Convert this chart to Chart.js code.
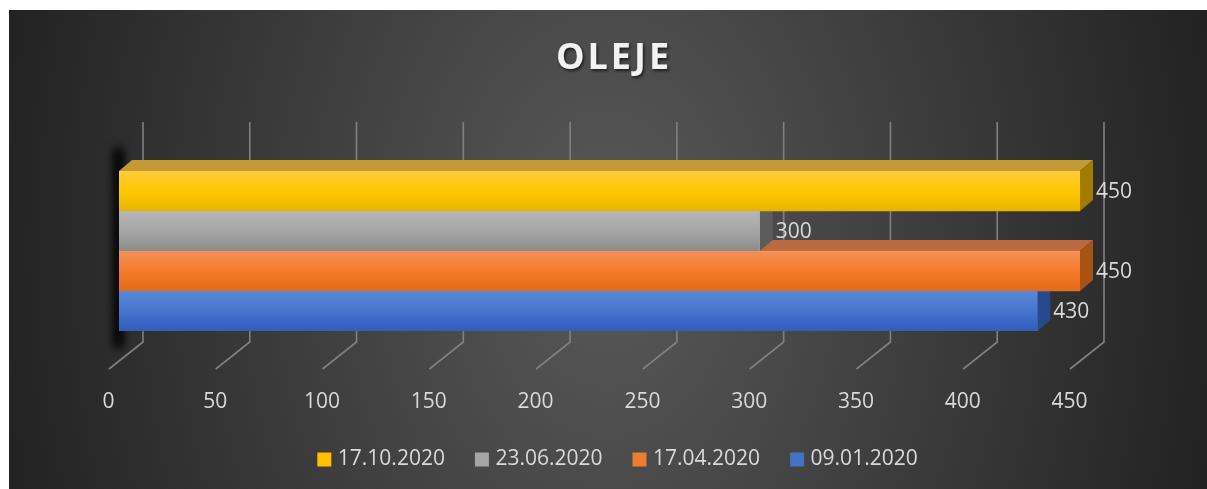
<!DOCTYPE html>
<html><head><meta charset="utf-8">
<script src="https://cdn.jsdelivr.net/npm/chart.js@4.4.1/dist/chart.umd.min.js"></script>
<style>
html,body{margin:0;padding:0;background:#fff;width:1207px;height:489px;overflow:hidden}
#bg{position:absolute;left:9px;top:10px;width:1198px;height:479px;background:radial-gradient(ellipse 620px 900px at 50% 50%, #595959 0%, #222222 100%)}
#wrap{position:absolute;left:0;top:0;width:1207px;height:489px}
canvas{display:block}
</style></head><body>
<div id="bg"></div>
<div id="wrap"><canvas id="c" width="1207" height="489"></canvas></div>
<script>
const chartTitle = 'OLEJE';
const categories = [''];
const seriesNames = ['17.10.2020', '23.06.2020', '17.04.2020', '09.01.2020'];
const values_17_10_2020 = [450];
const values_23_06_2020 = [300];
const values_17_04_2020 = [450];
const values_09_01_2020 = [430];
const axisMin = 0, axisMax = 450, axisStep = 50;

const seriesColors = ['#ffc000', '#a5a5a5', '#ed7d31', '#4472c4'];
const frontStops = [
  ['#ffcb3c', '#ffc800', '#e8b400'],
  ['#b6b6b6', '#a5a5a5', '#8c8c8c'],
  ['#f5915a', '#f47b2a', '#e26c1a'],
  ['#5b88d8', '#4575cc', '#2f5ebd']
];
const topFace = ['#c29a36', '#8a8a8a', '#bb6a40', '#3d63a8'];
const sideFace = ['#a47b00', '#5c5c5c', '#a85216', '#274a8f'];
const TXT = '#d9d9d9';
const FONT = '"Open Sans", "DejaVu Sans", sans-serif';
const DX = 13, DY = 11;

const depthPlugin = {
  id: 'depth',
  afterLayout(chart) {
    if (chart.legend) { chart.legend.left += 20; chart.legend.right += 20; }
  },
  beforeDatasetsDraw(chart) {
    const ctx = chart.ctx, xs = chart.scales.x, ca = chart.chartArea;
    const x0 = xs.getPixelForValue(0);
    // left shadow
    ctx.save();
    ctx.shadowColor = 'rgba(0,0,0,0.9)';
    ctx.shadowBlur = 10;
    ctx.shadowOffsetX = 10000;
    ctx.fillStyle = '#000';
    for (let k = 0; k < 2; k++) {
      ctx.fillRect(x0 - 10000 - 4, ca.top - 22, 7, ca.bottom - ca.top + 38);
    }
    ctx.restore();
    // gridlines
    ctx.save();
    ctx.strokeStyle = '#808080';
    ctx.lineWidth = 1.6;
    xs.ticks.forEach(t => {
      const px = xs.getPixelForValue(t.value) + 24;
      ctx.beginPath();
      ctx.moveTo(px, ca.top - 49);
      ctx.lineTo(px, ca.bottom + 11);
      ctx.lineTo(px - 34, ca.bottom + 38);
      ctx.stroke();
    });
    ctx.restore();
    // top + side faces, bottom bar first
    ctx.save();
    for (let d = chart.data.datasets.length - 1; d >= 0; d--) {
      const meta = chart.getDatasetMeta(d);
      meta.data.forEach(el => {
        const top = el.y - el.height / 2, bot = el.y + el.height / 2;
        const xb = el.base, xe = el.x;
        ctx.fillStyle = topFace[d];
        ctx.beginPath();
        ctx.moveTo(xb, top); ctx.lineTo(xb + DX, top - DY); ctx.lineTo(xe + DX, top - DY); ctx.lineTo(xe, top);
        ctx.closePath(); ctx.fill();
        ctx.fillStyle = sideFace[d];
        ctx.beginPath();
        ctx.moveTo(xe, top); ctx.lineTo(xe + DX, top - DY); ctx.lineTo(xe + DX, bot - DY); ctx.lineTo(xe, bot);
        ctx.closePath(); ctx.fill();
      });
    }
    ctx.restore();
  },
  afterDatasetsDraw(chart) {
    const ctx = chart.ctx;
    ctx.save();
    chart.data.datasets.forEach((ds, d) => {
      const meta = chart.getDatasetMeta(d);
      meta.data.forEach((el, i) => {
        const top = el.y - el.height / 2, h = el.height;
        const g = ctx.createLinearGradient(0, top, 0, top + h);
        g.addColorStop(0, frontStops[d][0]);
        g.addColorStop(0.5, frontStops[d][1]);
        g.addColorStop(1, frontStops[d][2]);
        ctx.fillStyle = g;
        ctx.fillRect(el.base, top, el.x - el.base, h);
        ctx.fillStyle = TXT;
        ctx.font = '21px ' + FONT;
        ctx.textAlign = 'left';
        ctx.textBaseline = 'middle';
        ctx.fillText(String(ds.data[i]), el.x + 16, el.y + 1);
      });
    });
    ctx.restore();
  },
  afterDraw(chart) {
    const ctx = chart.ctx;
    ctx.save();
    ctx.font = 'bold 36px ' + FONT;
    ctx.letterSpacing = '3px';
    ctx.textAlign = 'center';
    ctx.textBaseline = 'alphabetic';
    ctx.shadowColor = 'rgba(0,0,0,0.6)';
    ctx.shadowBlur = 3;
    ctx.shadowOffsetX = 1.5;
    ctx.shadowOffsetY = 2;
    ctx.fillStyle = '#f2f2f2';
    ctx.fillText(chartTitle, 614, 69);
    ctx.restore();
  }
};

const seriesValues = [values_17_10_2020, values_23_06_2020, values_17_04_2020, values_09_01_2020];

new Chart(document.getElementById('c'), {
  type: 'bar',
  data: {
    labels: categories,
    datasets: seriesNames.map((n, i) => ({
      label: n,
      data: seriesValues[i],
      backgroundColor: seriesColors[i],
      borderWidth: 0,
      barPercentage: 1,
      categoryPercentage: 1
    }))
  },
  options: {
    indexAxis: 'y',
    responsive: false,
    devicePixelRatio: 1,
    animation: false,
    layout: { padding: { left: 119, right: 127, top: 171, bottom: 9 } },
    scales: {
      x: {
        type: 'linear', min: axisMin, max: axisMax,
        grid: { display: false, drawTicks: false },
        border: { display: false },
        ticks: { stepSize: axisStep, color: TXT, font: { family: FONT, size: 21 }, padding: 58, labelOffset: -10.5 },
        afterFit(s) { s.height = 84; }
      },
      y: { display: false }
    },
    plugins: {
      title: { display: false },
      tooltip: { enabled: false },
      legend: {
        position: 'bottom',
        labels: {
          usePointStyle: true, pointStyle: 'rect',
          boxWidth: 6, boxHeight: 14, padding: 34,
          color: TXT, font: { family: FONT, size: 21 }
        }
      }
    }
  },
  plugins: [depthPlugin]
});
</script>
</body></html>
